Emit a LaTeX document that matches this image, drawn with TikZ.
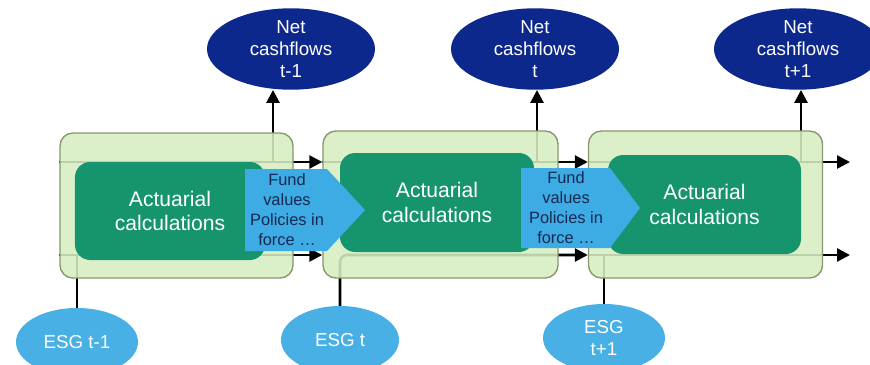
\documentclass[tikz,border=0pt]{standalone}
\usepackage{fontspec}
\setmainfont{Liberation Sans}
\usetikzlibrary{arrows.meta,positioning,shapes.geometric,backgrounds}
\definecolor{navy}{RGB}{12,40,140}
\definecolor{esgblue}{RGB}{72,176,228}
\definecolor{fundblue}{RGB}{62,172,228}
\definecolor{calcgreen}{RGB}{22,148,110}
\definecolor{stagefill}{RGB}{214,238,194}
\definecolor{stageline}{RGB}{135,152,108}
\definecolor{fundtext}{RGB}{22,40,82}

\tikzset{
  stage/.style={draw=stageline, line width=1.2pt, fill=stagefill, fill opacity=0.88,
    rounded corners=11pt, inner sep=0pt},
  calc/.style={fill=calcgreen, rounded corners=13pt, inner sep=0pt, text=white,
    align=center, font=\fontsize{18}{21}\selectfont},
  netcf/.style={ellipse, fill=navy, inner sep=0pt, text=white, align=center,
    minimum width=5.04cm, minimum height=2.4cm, font=\fontsize{16}{19}\selectfont},
  esg/.style={ellipse, fill=esgblue, inner sep=0pt, text=white, align=center,
    minimum width=3.66cm, minimum height=2.04cm, font=\fontsize{16}{19}\selectfont},
  fundtxt/.style={text=fundtext, align=center, inner sep=0pt,
    font=\fontsize{14}{17}\selectfont},
  flow/.style={line width=2.2pt, black},
}

\begin{document}
\begin{tikzpicture}[x=0.03cm, y=-0.03cm, >={Triangle[length=11pt,width=11pt]}]
        \useasboundingbox (0,0) rectangle (870,364);
        \path
        (0,162) coordinate (top)
        (0,255) coordinate (bot)
        (273,162) coordinate (u1)
        (537,162) coordinate (u2)
        (801,162) coordinate (u3)
        (850,162) coordinate (endtop)
        (850,255) coordinate (endbot)
        ;

        % stages
        \node[stage, minimum width=6.99cm, minimum height=4.35cm] (s1) at (176.5,205.5) {};
        \node[stage, minimum width=7.05cm, minimum height=4.41cm] (s2) at (440.5,204.5) {};
        \node[stage, minimum width=7.02cm, minimum height=4.41cm] (s3) at (705.5,204.5) {};

        \node[calc, minimum width=5.7cm, minimum height=2.94cm] (c1) at (170,211) {Actuarial\\calculations};
        \node[calc, minimum width=5.82cm, minimum height=2.97cm] (c2) at (437,202.5) {Actuarial\\calculations};
        \node[calc, minimum width=5.79cm, minimum height=2.97cm] (c3) at (704.5,204.5) {Actuarial\\calculations};

        % fund values
        \fill[fundblue] (245,169) -- (327,169) -- (365,210) -- (327,251) -- (245,251) -- cycle;
        \fill[fundblue] (521,168) -- (610,168) -- (640,208) -- (610,248) -- (521,248) -- cycle;
        \node[fundtxt] (fv1) at (287,210) {Fund\\values\\Policies in\\force …};
        \node[fundtxt] (fv2) at (566,208) {Fund\\values\\Policies in\\force …};

        % outputs and inputs
        \node[netcf] (n1) at (291,49) {Net\\cashflows\\t-1};
        \node[netcf] (n2) at (535,49) {Net\\cashflows\\t};
        \node[netcf] (n3) at (798,49) {Net\\cashflows\\t+1};

        \node[esg] (e1) at (77,342) {ESG t-1};
        \node[esg, minimum width=3.54cm] (e2) at (340,340) {ESG t};
        \node[esg] (e3) at (604,338) {ESG\\t+1};

        \begin{scope}[on background layer]
        \draw[flow,->] (u1) -- (u1 |- n1.south);
        \draw[flow,->] (u2) -- (u2 |- n2.south);
        \draw[flow,->] (u3) -- (u3 |- n3.south);

        \draw[flow,->] (s1.west |- top) -- (s2.west |- top);
        \draw[flow,->] (s2.west |- top) -- (s3.west |- top);
        \draw[flow,->] (s3.west |- top) -- (endtop);

        \draw[flow,->] (s1.west |- bot) -- (s2.west |- bot);
        \draw[flow,->,rounded corners=6pt] (e2.north) |- (s3.west |- bot);
        \draw[flow,->] (s3.west |- bot) -- (endbot);

        \draw[flow] (e1.north) -- (e1.north |- bot);
        \draw[flow] (e3.north) -- (e3.north |- bot);
        \end{scope}
\end{tikzpicture}
\end{document}
